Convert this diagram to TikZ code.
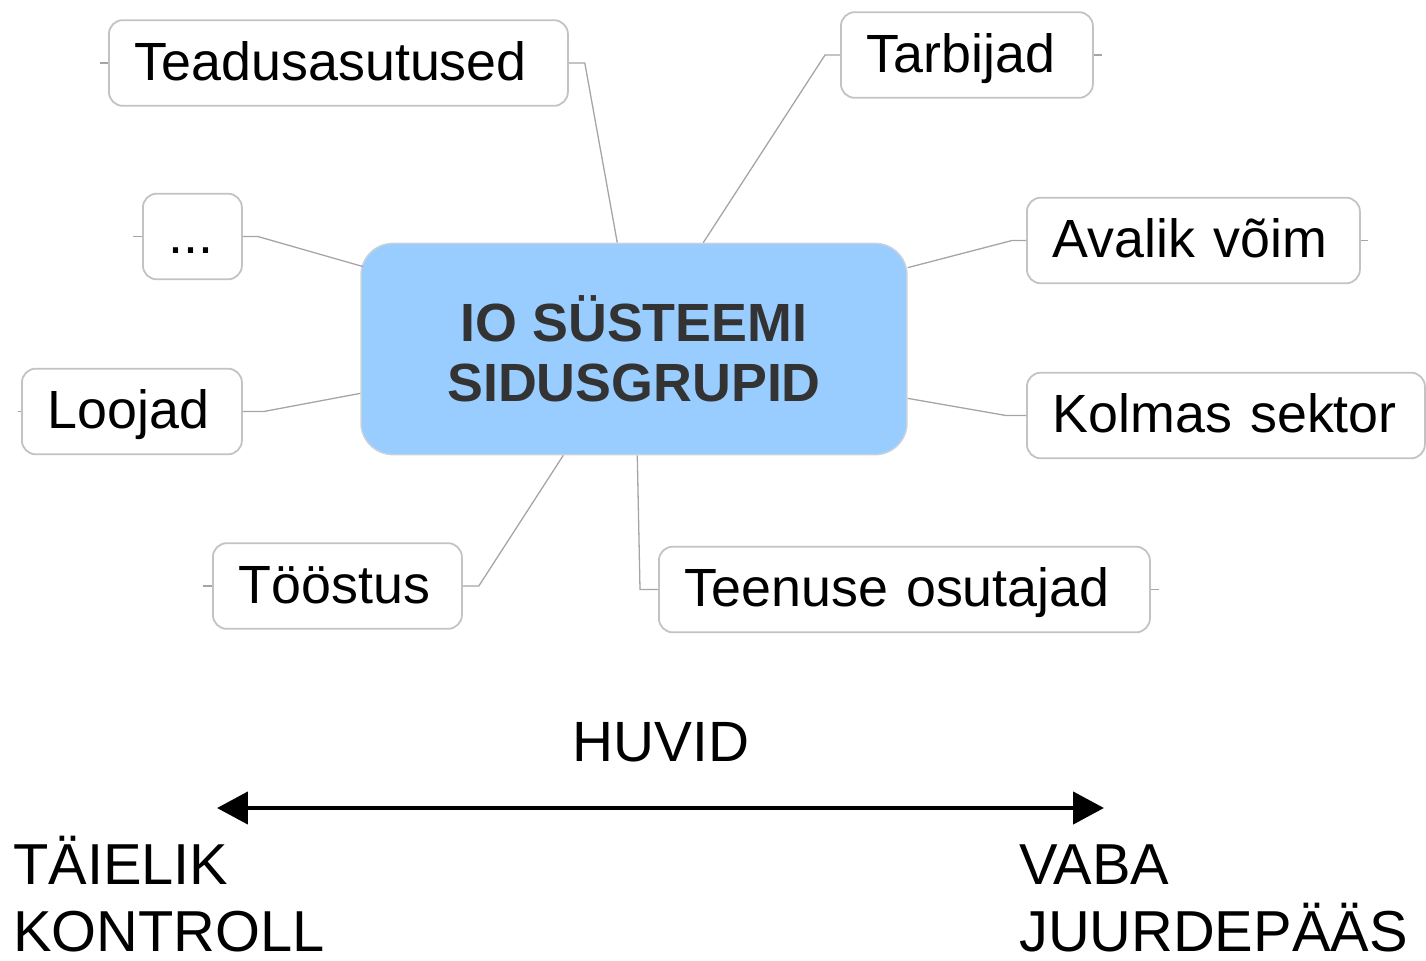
\documentclass[tikz,border=0pt]{standalone}
\usepackage{fontspec}
\setmainfont{Liberation Sans}
\usetikzlibrary{calc,arrows.meta}
\definecolor{corefill}{RGB}{153,204,255}
\definecolor{coreline}{RGB}{200,210,220}
\definecolor{boxline}{RGB}{195,195,195}
\definecolor{linkgray}{RGB}{165,165,165}
\definecolor{coretext}{RGB}{51,51,51}
\tikzset{
  core/.style = {draw = coreline, line width = 1.5, fill = corefill, rounded corners = 32,
    minimum width = 548, minimum height = 212, align = center, text = coretext,
    font = \fontsize{54}{60}\selectfont\bfseries},
  branch/.style = {draw = boxline, line width = 1.8, fill = white, rounded corners = 14,
    anchor = west, align = left, minimum height = 86, inner xsep = 26bp, inner ysep = 0,
    text height = 39, text depth = 4, font = \fontsize{54}{60}\selectfont},
  link/.style = {draw = linkgray, line width = 1.3},
  axislabel/.style = {inner sep = 0, align = left, anchor = base west,
    font = \fontsize{58}{67}\selectfont}
}
\begin{document}
\begin{tikzpicture}[x = 1bp, y = -1bp]
            \useasboundingbox (0,0) rectangle (1426,960);
            %Center
            \node [core] (core) at (634,349) {IO SÜSTEEMI\\SIDUSGRUPID};
            %Left side
            \node [branch, text width = 407bp] (tead) at (108,63) {Teadusasutused};
            \node [branch, text width = 47bp] (dots) at (142,236.5) {...};
            \node [branch, text width = 168bp] (looj) at (21,411.5) {Loojad};
            \node [branch, text width = 197bp] (toos) at (212,586) {Tööstus};
            %Right side
            \node [branch, text width = 200bp] (tarb) at (840,55) {Tarbijad};
            \node [branch, text width = 281bp] (aval) at (1026,240.5) {Avalik võim};
            \node [branch, text width = 346bp] (kolm) at (1026,415.5) {Kolmas sektor};
            \node [branch, text width = 439bp] (teen) at (658,589.5) {Teenuse osutajad};

            %Links to center
            \draw [link](tead.east)--++(16,0)--($(core.north west)+(257,0)$);
            \draw [link](tarb.west)--++(-15,0)--($(core.north west)+(343,0)$);
            \draw [link](dots.east)--++(15,0)--($(core.north west)+(3,24)$);
            \draw [link](looj.east)--++(21,0)--($(core.south west)+(0,-62)$);
            \draw [link](aval.west)--++(-14,0)--($(core.north east)+(0,25)$);
            \draw [link](kolm.west)--++(-20,0)--($(core.south east)+(0,-57)$);
            \draw [link](toos.east)--++(16,0)--($(core.south west)+(203,0)$);
            \draw [link](teen.west)--++(-18,0)--($(core.south west)+(277,0)$);
            %Stubs
            \draw [link](tead.west)--++(-8,0);
            \draw [link](dots.west)--++(-9,0);
            \draw [link](looj.west)--++(-3,0);
            \draw [link](toos.west)--++(-9,0);
            \draw [link](tarb.east)--++(8,0);
            \draw [link](aval.east)--++(7,0);
            \draw [link](teen.east)--++(8,0);

            %Interests axis
            \node [inner sep = 0, anchor = base, font = \fontsize{57}{66}\selectfont]
            (huvid)at(661,761){HUVID};
            \coordinate (ctrl) at (217,808);
            \coordinate (free) at (1104,808);
            \draw [line width = 4.5, {Triangle[length=31,width=32]}-{Triangle[length=31,width=32]}](ctrl)--(free);
            \node [axislabel] (taielik)at(13,951){TÄIELIK\\KONTROLL};
            \node [axislabel] (vaba)at(1019,951){VABA\\JUURDEPÄÄS};

        \end{tikzpicture}
\end{document}
